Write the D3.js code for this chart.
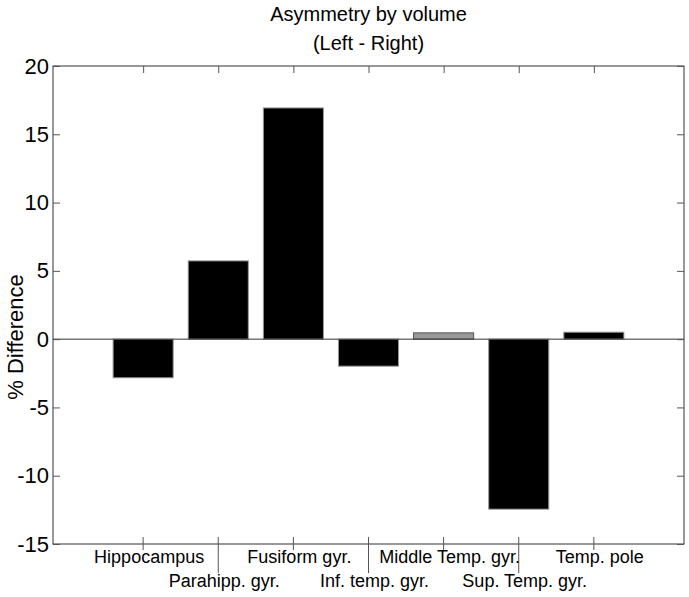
<!DOCTYPE html>
<html>
<head>
<meta charset="utf-8">
<script src="https://cdn.jsdelivr.net/npm/d3@7"></script>
<style>
  html, body { margin: 0; padding: 0; background: #fff; }
  svg text { font-family: "Liberation Sans", Arial, Helvetica, sans-serif; fill: #000; }
</style>
</head>
<body>
<svg id="chart" width="689" height="597"></svg>
<script>
// ---- data ----
const categories = ["Hippocampus", "Parahipp. gyr.", "Fusiform gyr.", "Inf. temp. gyr.",
                    "Middle Temp. gyr.", "Sup. Temp. gyr.", "Temp. pole"];
const values = [-2.83, 5.73, 16.93, -1.98, 0.46, -12.45, 0.51];
const highlighted = [false, false, false, false, true, false, false];
const yTicks = [-15, -10, -5, 0, 5, 10, 15, 20];
const titleLines = ["Asymmetry by volume", "(Left - Right)"];
const yLabel = "% Difference";

// ---- layout ----
const svg = d3.select("#chart");
const plotL = 53, plotR = 684, plotT = 66, plotB = 544;

const x = d3.scaleLinear().domain([-1.2, categories.length - 1 + 1.2]).range([plotL, plotR]);
const y = d3.scaleLinear().domain([-15, 20]).range([plotB, plotT]);
const barW = x(0.8) - x(0);

// bars
svg.append("g").selectAll("rect").data(values).join("rect")
  .attr("x", (d, i) => x(i) - barW / 2)
  .attr("y", d => y(Math.max(0, d)))
  .attr("width", barW)
  .attr("height", d => Math.abs(y(d) - y(0)))
  .attr("fill", (d, i) => highlighted[i] ? "#999999" : "#000000")
  .attr("stroke", (d, i) => highlighted[i] ? "#555555" : "#9a9a9a")
  .attr("stroke-width", 1);

// zero line
svg.append("line")
  .attr("x1", plotL).attr("x2", plotR)
  .attr("y1", y(0)).attr("y2", y(0))
  .attr("stroke", "#333").attr("stroke-width", 1);

// axes box
svg.append("rect")
  .attr("x", plotL).attr("y", plotT)
  .attr("width", plotR - plotL).attr("height", plotB - plotT)
  .attr("fill", "none").attr("stroke", "#333").attr("stroke-width", 1);

// left axis (inside ticks + labels)
const yAxis = d3.axisLeft(y).tickValues(yTicks).tickSizeInner(-7).tickSizeOuter(0)
  .tickPadding(4).tickFormat(d => String(d));
const gy = svg.append("g").attr("transform", `translate(${plotL},0)`).call(yAxis);
gy.select(".domain").remove();
gy.selectAll(".tick line").attr("stroke", "#555");
gy.selectAll(".tick text").attr("font-size", 22).attr("font-family", '"Liberation Sans", Arial, sans-serif');

// right axis ticks
const yAxisR = d3.axisRight(y).tickValues(yTicks).tickSizeInner(-7).tickSizeOuter(0).tickFormat("");
const gyr = svg.append("g").attr("transform", `translate(${plotR},0)`).call(yAxisR);
gyr.select(".domain").remove();
gyr.selectAll(".tick line").attr("stroke", "#555");

// top ticks
const xIdx = d3.range(categories.length);
const xAxisTop = d3.axisTop(x).tickValues(xIdx).tickSizeInner(-7).tickSizeOuter(0).tickFormat("");
const gxt = svg.append("g").attr("transform", `translate(0,${plotT})`).call(xAxisTop);
gxt.select(".domain").remove();
gxt.selectAll(".tick line").attr("stroke", "#555");

// bottom ticks (cross the axis; every second one is long)
svg.append("g").selectAll("line").data(xIdx).join("line")
  .attr("x1", i => x(i)).attr("x2", i => x(i))
  .attr("y1", plotB - 7)
  .attr("y2", i => plotB + (i % 2 === 1 ? 29 : 6))
  .attr("stroke", "#555").attr("stroke-width", 1);

// category labels (two staggered rows)
svg.append("g").selectAll("text").data(categories).join("text")
  .attr("x", (d, i) => x(i) + 6)
  .attr("y", (d, i) => i % 2 === 0 ? 563 : 587)
  .attr("text-anchor", "middle")
  .attr("font-size", 18)
  .text(d => d);

// title
svg.append("g").selectAll("text").data(titleLines).join("text")
  .attr("x", (plotL + plotR) / 2)
  .attr("y", (d, i) => 21 + i * 29)
  .attr("text-anchor", "middle")
  .attr("font-size", 20)
  .text(d => d);

// y label
svg.append("text")
  .attr("transform", `translate(23,337) rotate(-90)`)
  .attr("text-anchor", "middle")
  .attr("font-size", 22)
  .text(yLabel);
</script>
</body>
</html>
